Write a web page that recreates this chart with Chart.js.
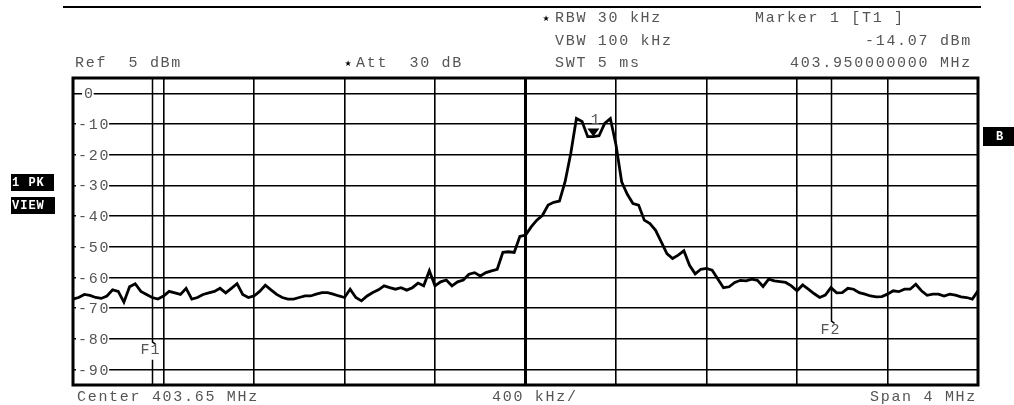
<!DOCTYPE html>
<html>
<head>
<meta charset="utf-8">
<script src="https://cdn.jsdelivr.net/npm/chart.js"></script>
<style>
  html, body { margin: 0; padding: 0; background: #fff; }
  canvas { display: block; }
</style>
</head>
<body>
<canvas id="spectrum" width="1014" height="405"></canvas>
<script>
// sweep points: 161 points starting at 401.65 MHz, 25 kHz apart
const sweepStart = 401.65;
const sweepStep = 0.025;
const traceDbm = [
  -67, -66.5, -65.5, -65.8, -66.5, -66.8, -66, -64, -64.5, -68,
  -63, -62, -64.5, -65.5, -66.5, -67, -66, -64.5, -65, -65.5,
  -63.5, -67, -66.5, -65.5, -65, -64.5, -63.5, -65, -63.5, -62,
  -65.5, -66.5, -66, -64.5, -62.5, -64, -65.5, -66.5, -67, -67,
  -66.5, -66, -66, -65.4, -64.9, -64.9, -65.4, -66, -66.5, -63.8,
  -66.5, -67.6, -66, -64.9, -64, -62.7, -63.3, -63.8, -63.3, -64.1,
  -63.3, -61.8, -62.7, -57.8, -62.7, -61.4, -60.8, -62.7, -61.4, -60.8,
  -58.9, -58.4, -59.5, -58.4, -57.8, -57.3, -51.8, -51.6, -51.8, -46.6,
  -46.2, -43.5, -41.3, -39.7, -36.4, -35.5, -35.1, -28.8, -19.6, -8.2,
  -9.2, -14.1, -14.07, -13.8, -9.8, -8.2, -16.8, -28.8, -32.9, -35.9,
  -36.4, -41.3, -42.4, -44.6, -48.4, -52.2, -53.8, -52.7, -51.3, -56,
  -58.8, -57.3, -57, -57.6, -60.5, -63.3, -63, -61.6, -60.9, -61.1,
  -60.5, -60.9, -62.9, -60.5, -61.1, -61.3, -61.6, -62.7, -64.3, -62.4,
  -63.8, -65.2, -66.5, -65.7, -63.3, -65, -64.9, -63.5, -63.8, -64.9,
  -65.4, -66, -66.3, -66.2, -65.4, -64.3, -64.6, -63.8, -63.8, -62.2,
  -64.3, -65.8, -65.4, -65.4, -66, -65.4, -65.7, -66.3, -66.5, -67, -64.3
];

const freqTicks = [401.65, 402.05, 402.45, 402.85, 403.25, 403.65, 404.05, 404.45, 404.85, 405.25, 405.65];
const levelTicks = [0, -10, -20, -30, -40, -50, -60, -70, -80, -90];
const levelLabels = ["0", "-10", "-20", "-30", "-40", "-50", "-60", "-70", "-80", "-90"];
const refLevel = 5;
const bottomLevel = -95;

const marker1 = { freq: 403.95, level: -14.07 };
const f1Freq = 402.0;
const f2Freq = 405.0;

const tracePoints = traceDbm.map((v, i) => ({ x: sweepStart + i * sweepStep, y: v }));

const textFont = "15px 'Liberation Mono', monospace";
const textColor = "#555";
const textSpacing = "1.7px";

function put(ctx, txt, x, y, align) {
  ctx.textAlign = align || "left";
  ctx.fillText(txt, x, y);
}

const overlay = {
  id: "overlay",
  beforeDatasetsDraw(chart) {
    const { ctx, chartArea: a, scales: { x, y } } = chart;
    ctx.save();

    // F1 / F2 display lines
    ctx.strokeStyle = "#000";
    ctx.lineWidth = 1.5;
    const f1x = Math.round(x.getPixelForValue(f1Freq)) + 0.5;
    const f2x = Math.round(x.getPixelForValue(f2Freq)) + 0.5;
    ctx.beginPath();
    ctx.moveTo(f1x, a.top);
    ctx.lineTo(f1x, y.getPixelForValue(-81));
    ctx.lineTo(f1x + 3, y.getPixelForValue(-81.7));
    ctx.moveTo(f1x, y.getPixelForValue(-86.8));
    ctx.lineTo(f1x, a.bottom);
    ctx.moveTo(f2x, a.top);
    ctx.lineTo(f2x, y.getPixelForValue(-74.2));
    ctx.lineTo(f2x + 3, y.getPixelForValue(-74.9));
    ctx.stroke();

    ctx.font = textFont;
    ctx.letterSpacing = "1px";
    ctx.textBaseline = "middle";
    ctx.fillStyle = textColor;
    put(ctx, "F1", f1x - 12, y.getPixelForValue(-83.5));
    put(ctx, "F2", f2x - 11, y.getPixelForValue(-77.2));

    // level labels sitting on the grid lines
    ctx.letterSpacing = textSpacing;
    levelTicks.forEach((v, i) => {
      const py = y.getPixelForValue(v);
      const txt = levelLabels[i];
      const tx = txt === "0" ? a.left + 11 : a.left + 5;
      const w = ctx.measureText(txt).width;
      ctx.fillStyle = "#fff";
      ctx.fillRect(tx - 2, py - 5, w + 1, 10);
      ctx.fillStyle = textColor;
      put(ctx, txt, tx, py + 1);
    });
    ctx.restore();
  },
  afterDraw(chart) {
    const { ctx, chartArea: a, scales: { x, y } } = chart;
    ctx.save();

    // frame
    ctx.strokeStyle = "#000";
    ctx.lineWidth = 3;
    ctx.strokeRect(a.left, a.top, a.right - a.left, a.bottom - a.top);

    // top rule
    ctx.lineWidth = 2;
    ctx.beginPath();
    ctx.moveTo(63, 7);
    ctx.lineTo(981, 7);
    ctx.stroke();

    // marker 1
    const mx = x.getPixelForValue(marker1.freq);
    const my = y.getPixelForValue(marker1.level);
    ctx.fillStyle = "#000";
    ctx.beginPath();
    ctx.moveTo(mx - 6, my - 8);
    ctx.lineTo(mx + 6, my - 8);
    ctx.lineTo(mx, my);
    ctx.closePath();
    ctx.fill();

    ctx.font = textFont;
    ctx.textBaseline = "middle";
    ctx.fillStyle = textColor;
    ctx.letterSpacing = "0px";
    put(ctx, "1", mx + 2, my - 17, "center");

    ctx.letterSpacing = textSpacing;
    put(ctx, "RBW 30 kHz", 555, 18);
    put(ctx, "VBW 100 kHz", 555, 41);
    put(ctx, "SWT 5 ms", 555, 63);
    put(ctx, "Marker 1 [T1 ]", 755, 18);
    put(ctx, "-14.07 dBm", 972, 41, "right");
    put(ctx, "403.950000000 MHz", 972, 63, "right");
    put(ctx, "Ref  5 dBm", 75, 63);
    put(ctx, "Att  30 dB", 356, 63);
    put(ctx, "Center 403.65 MHz", 77, 397);
    put(ctx, "400 kHz/", 492, 397);
    put(ctx, "Span 4 MHz", 977, 397, "right");

    ctx.letterSpacing = "0px";
    ctx.font = "8px 'DejaVu Sans'";
    ctx.fillStyle = "#000";
    put(ctx, "\u2605", 546, 19, "center");
    put(ctx, "\u2605", 348, 64, "center");

    // side boxes
    ctx.fillStyle = "#000";
    ctx.fillRect(11, 174, 43, 17);
    ctx.fillRect(11, 197, 44, 17);
    ctx.fillRect(983, 127, 31, 19);
    ctx.fillStyle = "#fff";
    ctx.font = "bold 12px 'Liberation Mono', monospace";
    ctx.letterSpacing = "1px";
    put(ctx, "1 PK", 12, 183);
    put(ctx, "VIEW", 12, 206);
    put(ctx, "B", 1000, 137, "center");
    ctx.restore();
  }
};

new Chart(document.getElementById("spectrum"), {
  type: "line",
  data: {
    datasets: [{
      data: tracePoints,
      borderColor: "#000",
      borderWidth: 2.8,
      pointRadius: 0,
      tension: 0,
      fill: false
    }]
  },
  options: {
    responsive: false,
    devicePixelRatio: 1,
    animation: false,
    layout: { padding: { left: 73, right: 36, top: 78, bottom: 20 } },
    plugins: { legend: { display: false }, tooltip: { enabled: false } },
    scales: {
      x: {
        type: "linear",
        min: freqTicks[0],
        max: freqTicks[freqTicks.length - 1],
        afterBuildTicks: s => { s.ticks = freqTicks.map(v => ({ value: v })); },
        ticks: { display: false },
        border: { display: false },
        grid: { color: "#000", lineWidth: c => (c.index === 5 ? 3 : 1.6), drawTicks: false }
      },
      y: {
        min: bottomLevel,
        max: refLevel,
        afterBuildTicks: s => { s.ticks = levelTicks.map(v => ({ value: v })); },
        ticks: { display: false },
        border: { display: false },
        grid: { color: "#000", lineWidth: 1.6, drawTicks: false }
      }
    }
  },
  plugins: [overlay]
});
</script>
</body>
</html>
